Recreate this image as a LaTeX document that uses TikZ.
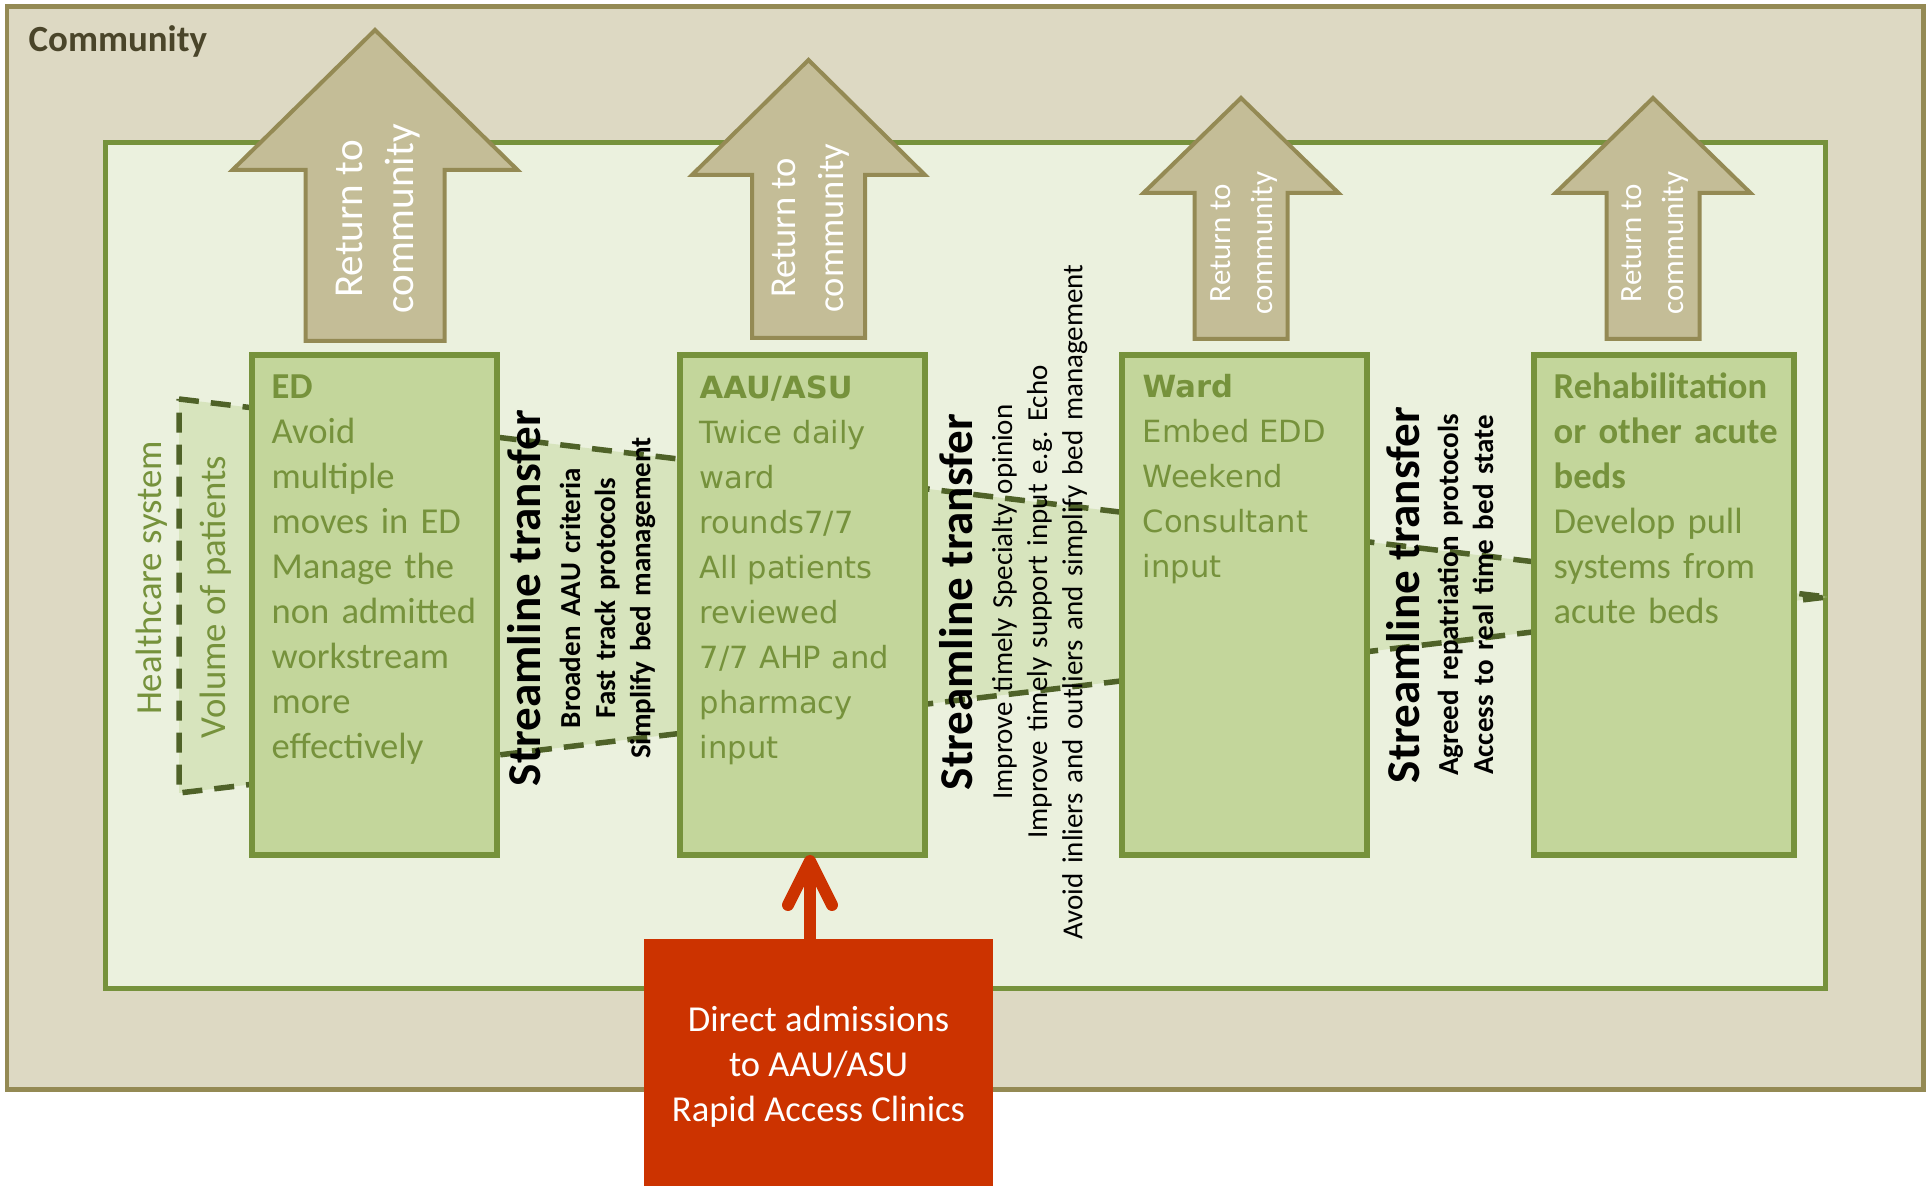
\documentclass[tikz,border=0pt]{standalone}
\usepackage{fontspec}
\setmainfont{Carlito}
\newfontfamily\widefont{DejaVu Sans}
\usepackage{tikz}
\usetikzlibrary{arrows.meta}
\definecolor{commfill}{HTML}{DDD9C3}
\definecolor{commedge}{HTML}{948A54}
\definecolor{commtext}{HTML}{4A452A}
\definecolor{hospfill}{HTML}{EBF1DE}
\definecolor{hospedge}{HTML}{76923C}
\definecolor{stagefill}{HTML}{C3D69B}
\definecolor{funnelfill}{HTML}{D7E4BD}
\definecolor{funneledge}{HTML}{4F6228}
\definecolor{backfill}{HTML}{C4BD97}
\definecolor{admitred}{HTML}{CC3300}

\tikzset{
  stagebox/.style={draw=hospedge,fill=stagefill,line width=0.55mm,inner sep=0pt,
    outer sep=0pt,minimum width=24.5mm,minimum height=50mm},
  stagetext/.style={anchor=base west,inner sep=0pt,align=left,text width=23mm,
    text=hospedge,font=\fontsize{10.4}{12.8}\selectfont},
  widetext/.style={stagetext,font=\widefont\fontsize{8.7}{12.8}\selectfont},
  flowtitle/.style={rotate=90,anchor=base,inner sep=0pt,
    font=\fontsize{13.4}{16}\selectfont\bfseries},
  flownote/.style={rotate=90,anchor=base,inner sep=0pt,align=center,text width=80mm,
    font=\fontsize{8.25}{10}\selectfont},
  boldnote/.style={flownote,font=\fontsize{8.25}{10}\selectfont\bfseries},
  sidelabel/.style={rotate=90,anchor=base,inner sep=0pt,text=hospedge,
    font=\fontsize{10.45}{12}\selectfont},
  backarrow/.style={fill=backfill,draw=commedge,line width=0.4mm},
  backlabel/.style={rotate=90,inner sep=0pt,align=center,text=white},
  admitbox/.style={fill=admitred,text=white,align=center,inner sep=0pt,outer sep=0pt,
    minimum width=34.9mm,minimum height=25.6mm,font=\fontsize{10.4}{12.8}\selectfont},
  admitarrow/.style={draw=admitred,line width=1.2mm,
    -{Straight Barb[length=4.4mm,width=4.4mm,round]}},
}

\begin{document}
\begin{tikzpicture}[x=0.1mm,y=-0.1mm]
% 1 unit = 1 px of the 1931 x 1186 original, y grows downwards
\useasboundingbox (0,0) rectangle (1931,1186);

% ── Community and hospital frames ───────────────────────────────
\filldraw[fill=commfill,draw=commedge,line width=0.5mm] (7,7) rectangle (1923,1090);
\node[anchor=base west,inner sep=0pt,text=commtext,
 font=\fontsize{10.5}{12}\selectfont\bfseries] (commlabel) at (28,52) {Community};
\filldraw[fill=hospfill,draw=hospedge,line width=0.5mm] (105,143) rectangle (1825,989);

% ── Patient volume funnel (behind the stages) ───────────────────
\filldraw[fill=funnelfill,draw=funneledge,line width=0.55mm,line join=round,
 dash pattern=on 2mm off 1.2mm]
 (179,399) -- (1827,597) -- (179,793) -- cycle;
\node[sidelabel] (hsys) at (161,578) {Healthcare system};
\node[sidelabel] (volume) at (226,597) {Volume of patients};

% ── Return to community arrows ──────────────────────────────────
\foreach \nm/\cx/\tip/\base/\hw/\sw/\bot/\tx/\ty/\fs/\bs in {
  a/375/30/170/142.5/69.5/341/378/219/11.7/14.5,
  b/808.5/60/175/116.5/56.5/338/811/228/10.4/13.7,
  c/1241/98/193/97.5/46.5/339/1244/243/8.8/12,
  d/1653/98/193/97.5/46.5/339/1655/243/8.8/12}{
  \draw[backarrow] ({\cx-\sw},\bot) -- ({\cx-\sw},\base) -- ({\cx-\hw},\base)
   -- (\cx,\tip) -- ({\cx+\hw},\base) -- ({\cx+\sw},\base) -- ({\cx+\sw},\bot) -- cycle;
  \node[backlabel,font=\fontsize{\fs}{\bs}\selectfont] (back\nm) at (\tx,\ty)
   {Return to\\community};
}

% ── Stages ──────────────────────────────────────────────────────
\node[stagebox] (ed) at (374.5,605) {};
\node[stagebox] (aau) at (802.5,605) {};
\node[stagebox] (ward) at (1244.5,605) {};
\node[stagebox,minimum width=26mm] (rehab) at (1664,605) {};

\node[stagetext] (edtext) at ([shift={(19,44)}]ed.north west)
 {\textbf{ED}\\Avoid\\multiple\\moves in ED\\Manage the\\non admitted\\workstream\\more\\effectively};
\node[widetext] (aautext) at ([shift={(19,44)}]aau.north west)
 {\textbf{AAU/ASU}\\Twice daily\\ward\\rounds7/7\\All patients\\reviewed\\7/7 AHP and\\pharmacy\\input};
\node[widetext] (wardtext) at ([shift={(20,43)}]ward.north west)
 {\textbf{Ward}\\Embed EDD\\Weekend\\Consultant\\input};
\node[stagetext,text width=24mm] (rehabtext) at ([shift={(19,44)}]rehab.north west)
 {\textbf{Rehabilitation}\\\textbf{or other acute}\\\textbf{beds}\\Develop pull\\systems from\\acute beds};

% ── Streamline transfer notes ───────────────────────────────────
\node[flowtitle] (flowa) at (540,598) {Streamline transfer};
\node[boldnote] (flowanotes) at (580,598)
 {Broaden AAU criteria\\Fast track protocols\\Simplify bed management};
\node[flowtitle] (flowb) at (972,602) {Streamline transfer};
\node[flownote] (flowbnotes) at (1012,602)
 {Improve timely Specialty opinion\\Improve timely support input e.g.\ Echo\\Avoid inliers and outliers and simplify bed management};
\node[flowtitle] (flowc) at (1419,595) {Streamline transfer};
\node[boldnote] (flowcnotes) at (1458,595)
 {Agreed repatriation protocols\\Access to real time bed state};

% ── Direct admissions ───────────────────────────────────────────
\node[admitbox] (dadm) at (818.5,1067)
 {Direct admissions\\to AAU/ASU\\Rapid Access Clinics};
\coordinate (admittop) at ([xshift=-0.85mm]dadm.north);
\draw[admitarrow] (admittop) -- (admittop |- aau.south);
\end{tikzpicture}
\end{document}
